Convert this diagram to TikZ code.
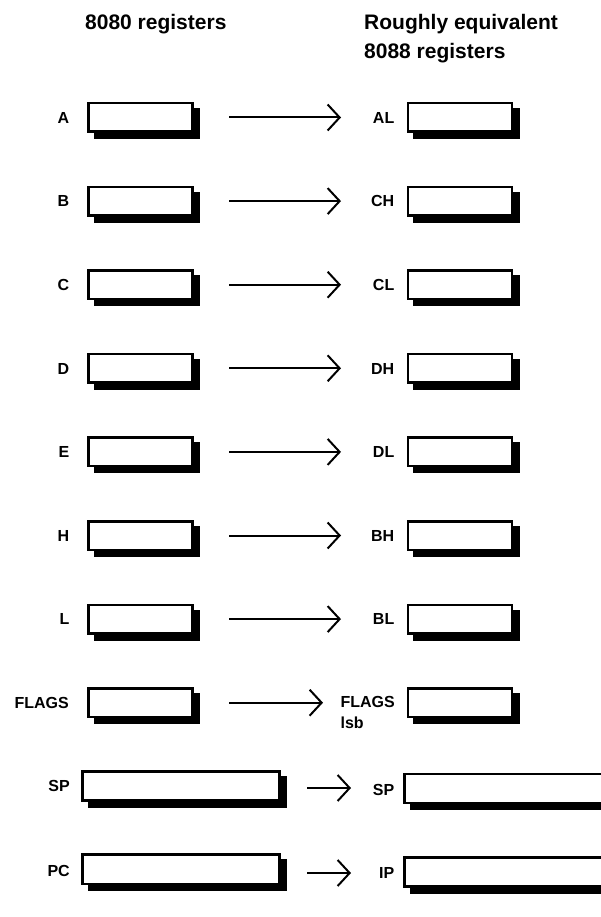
\documentclass[tikz,border=0pt]{standalone}
\usepackage{fontspec}
\setmainfont{Liberation Sans}
\usetikzlibrary{arrows.meta,shadows}
\begin{document}
\begin{tikzpicture}[x=1pt,y=-1pt,
  regbox/.style={draw=black, fill=white, line width=2.5pt, rectangle, inner sep=0pt, outer sep=0pt,
    minimum width=104pt, minimum height=28.5pt,
    drop shadow={shadow xshift=6.5pt, shadow yshift=-6pt, fill=black, draw=black, line width=2.5pt, opacity=1}},
  widebox/.style={regbox, minimum width=197.2pt, minimum height=29.2pt},
  widerbox/.style={regbox, minimum width=207.5pt, minimum height=29.2pt},
  lab/.style={font=\fontsize{16}{18}\selectfont\bfseries, inner sep=0pt, text height=11.5pt, text depth=0pt, anchor=east},
  ttl/.style={font=\fontsize{21}{25}\selectfont\bfseries, inner sep=0pt, anchor=base west},
  arr/.style={line width=2pt, -{Straight Barb[length=12pt,width=26pt]}}
]
\useasboundingbox (0,0) rectangle (601,917);
\clip (0,0) rectangle (601,917);
\fill[white] (0,0) rectangle (601,917);

\node[ttl] (t1) at (85,29.5) {8080 registers};
\node[ttl] (t2) at (364,30) {Roughly equivalent};
\node[ttl] (t3) at (364,58.5) {8088 registers};

\foreach \i/\l/\r in {0/A/AL,1/B/CH,2/C/CL,3/D/DH,4/E/DL,5/H/BH,6/L/BL}{
  \pgfmathsetmacro{\yy}{117.5+83.6*\i}
  \node[regbox] (lb\i) at (140.25,\yy) {};
  \node[regbox] (rb\i) at (459.75,\yy) {};
  \node[lab] (ll\i) at (69.5,\yy) {\l};
  \node[lab] (rl\i) at (394.5,\yy) {\r};
  \coordinate (as\i) at (229,\yy);
  \coordinate (ae\i) at (341,\yy);
  \draw[arr] (as\i) -- (ae\i);
}

% FLAGS row
\node[regbox] (lb7) at (140.25,702.7) {};
\node[regbox] (rb7) at (459.75,702.7) {};
\node[lab] (ll7) at (69,702.7) {FLAGS};
\node[lab] (rl7) at (395,701.5) {FLAGS};
\node[lab, anchor=north west] (rl7b) at ([yshift=-9pt]rl7.south west) {lsb};
\coordinate (as7) at (229,702.7);
\coordinate (ae7) at (323,702.7);
\draw[arr] (as7) -- (ae7);

% SP row
\node[widebox] (lb8) at (180.85,786) {};
\node[widerbox] (rb8) at (508,788.5) {};
\node[lab] (ll8) at (70,786) {SP};
\node[lab] (rl8) at (394.5,789.5) {SP};
\coordinate (as8) at (307,788);
\coordinate (ae8) at (351,788);
\draw[arr] (as8) -- (ae8);

% PC row
\node[widebox] (lb9) at (180.85,869.2) {};
\node[widerbox] (rb9) at (508,872) {};
\node[lab] (ll9) at (70,870.5) {PC};
\node[lab] (rl9) at (394.5,873) {IP};
\coordinate (as9) at (307,873);
\coordinate (ae9) at (351,873);
\draw[arr] (as9) -- (ae9);
\end{tikzpicture}
\end{document}
